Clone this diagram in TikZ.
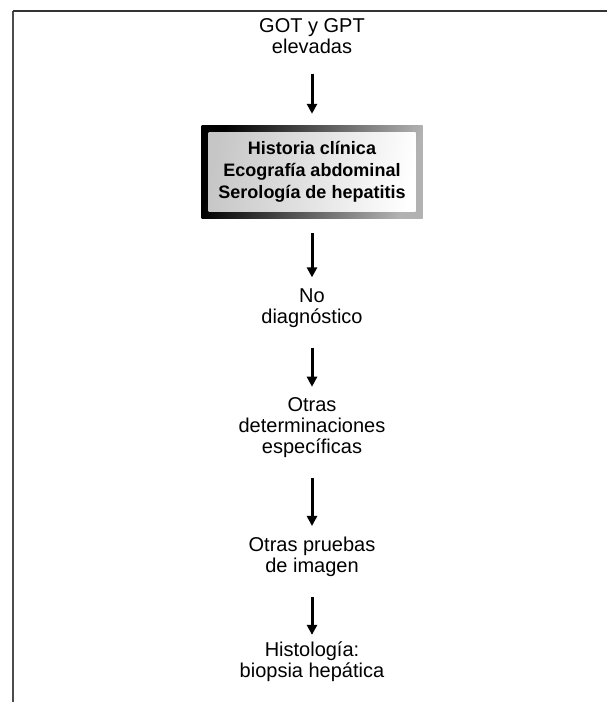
\documentclass[tikz,border=0pt]{standalone}
\usepackage{fontspec}
\setmainfont{Liberation Sans}
\usetikzlibrary{arrows.meta, calc, positioning}

\tikzset{
	stage/.style = {align = center, inner sep = 0pt, font = \fontsize{20}{21}\selectfont},
	flow/.style = {line width = 3pt, -{Triangle[width = 10pt, length = 10pt]}, shorten < = 20pt, shorten > = 11pt},
	exambox/.style = {minimum width = 221pt, minimum height = 93pt, inner sep = 0pt,
		shading = axis, left color = black, right color = gray!60, shading angle = 75,
		align = center, font = \fontsize{18}{22}\selectfont\bfseries,
		path picture = {
			\shade [left color = gray!45, right color = white, shading angle = 80]
				($ (path picture bounding box.south west) + (7pt, 7pt) $) rectangle
				($ (path picture bounding box.north east) + (-7pt, -7pt) $);
		}}
}

\begin{document}
\begin{tikzpicture}[x = 1pt, y = 1pt]
		\useasboundingbox (0, 0) rectangle (607, -702);
		
		\def\cx{312};
		
		\coordinate (frame corner) at (13, -11);
		\coordinate (frame bottom) at (13, -702);
		\coordinate (frame right) at (607, -11);
		
		\draw [line width = 2pt, gray!60!black] (frame bottom) -- (frame corner);
		\draw [line width = 2pt, black!80] (frame corner) -- (frame right);
		
		\node (elevated) [stage] at (\cx, -36) {GOT y GPT\\elevadas};
		
		\node (exams) [exambox] at (\cx, -171.5) {Historia clínica\\Ecografía abdominal\\Serología de hepatitis};
		
		\node (nodiag) [stage] at (\cx, -308) {No\\diagnóstico};
		
		\node (specific) [stage] at (\cx, -428) {Otras\\determinaciones\\específicas};
		
		\node (imaging) [stage] at (\cx, -557) {Otras pruebas\\de imagen};
		
		\node (biopsy) [stage] at (\cx, -662) {Histología:\\biopsia hepática};
		
		\draw [flow] (elevated) -- (exams);
		\draw [flow, shorten < = 15pt] (exams) -- (nodiag);
		\draw [flow] (nodiag) -- (specific);
		\draw [flow] (specific) -- (imaging);
		\draw [flow, shorten > = 7pt] (imaging) -- (biopsy);
	\end{tikzpicture}
\end{document}
